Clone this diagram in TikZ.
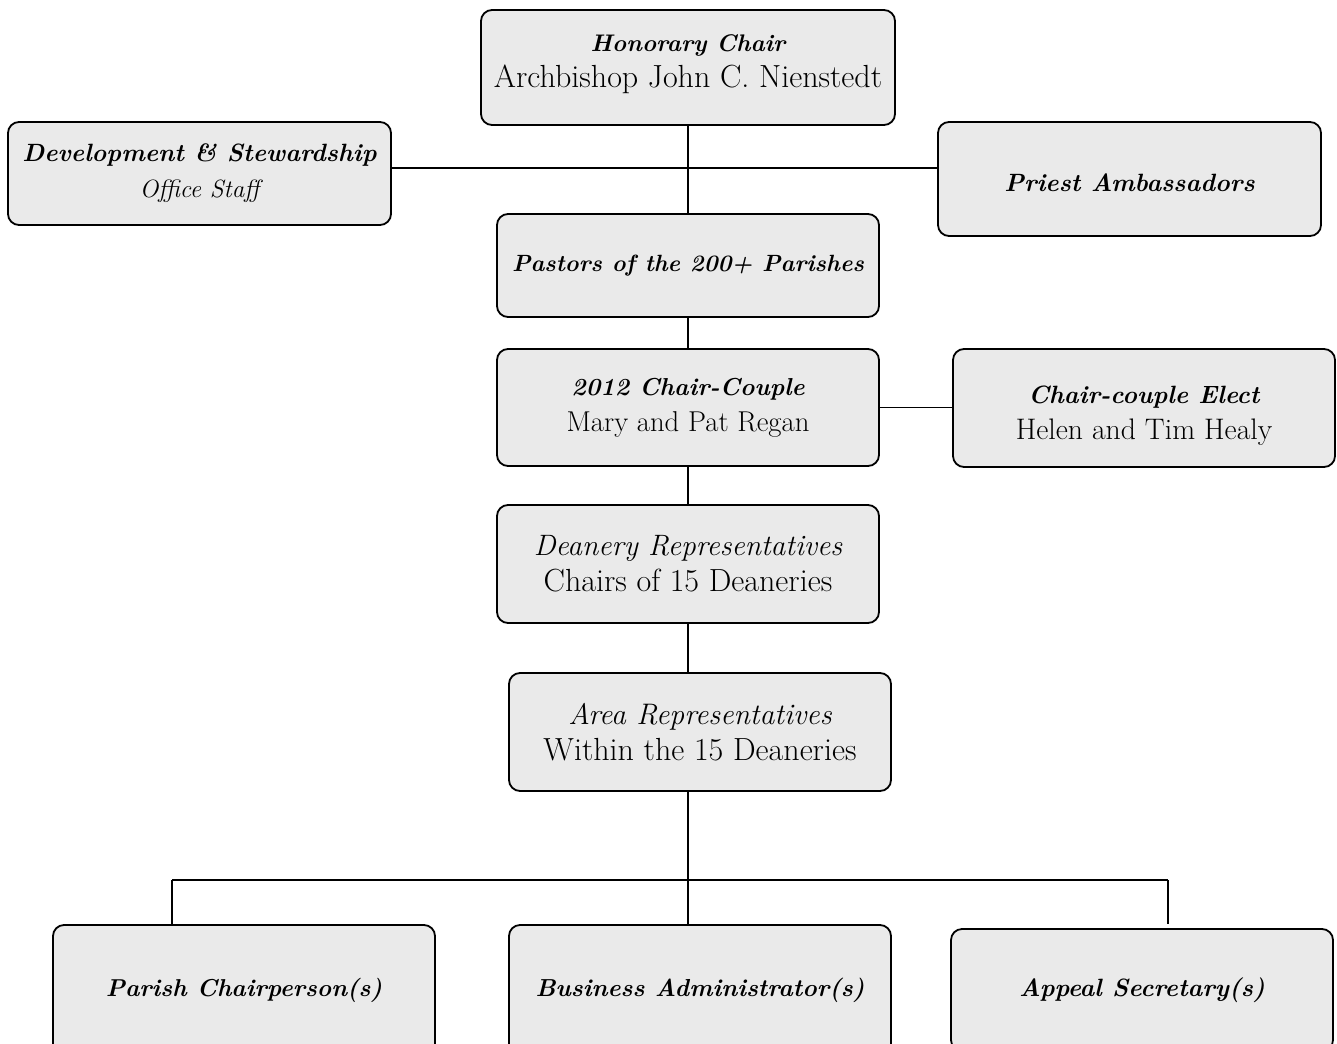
\documentclass[tikz,border=0pt]{standalone}
\usetikzlibrary{calc}
\definecolor{boxfill}{HTML}{EAEAEA}
\tikzset{
  orgbox/.style={draw=black, line width=1.8pt, fill=boxfill, rounded corners=11pt,
    align=center, inner sep=0pt, minimum width=382pt, font=\fontsize{25}{36}\selectfont},
  link/.style={draw=black, line width=1.3pt},
  thicklink/.style={draw=black, line width=2pt},
}
\newcommand{\fbi}[1][25]{\fontsize{#1}{36}\selectfont\bfseries\itshape\ignorespaces}
\newcommand{\fit}[1][29.6]{\fontsize{#1}{36}\selectfont\itshape\ignorespaces}
\newcommand{\frg}[1][30]{\fontsize{#1}{36}\selectfont\ignorespaces}
\begin{document}
\begin{tikzpicture}[x=1pt,y=-1pt]
\useasboundingbox (0,0) rectangle (1337,1043);
\clip (0,0) rectangle (1337,1043);
% boxes
\node[orgbox, minimum width=414pt, minimum height=115pt] (hon) at (688,67.5)
  {{\fbi[24] Honorary Chair}\\{\frg[32] Archbishop John C. Nienstedt}\\[-24pt]};
\node[orgbox, minimum width=383pt, minimum height=103pt] (dev) at (199.5,173.5)
  {{\fbi Development \& Stewardship}\\{\fontsize{25}{36}\selectfont\itshape Office Staff}};
\node[orgbox, minimum width=383pt, minimum height=114pt] (pri) at (1129.5,179)
  {\fbi\rule{0pt}{26pt}Priest Ambassadors};
\node[orgbox, minimum width=382pt, minimum height=103pt] (pas) at (688,265.5)
  {\fbi[23.5] Pastors of the 200+ Parishes};
\node[orgbox, minimum width=382pt, minimum height=117pt] (cha) at (688,407.5)
  {{\fbi[24.5] 2012 Chair-Couple}\\{\frg[28.7] Mary and Pat Regan}};
\node[orgbox, minimum width=382pt, minimum height=118pt] (ele) at (1144,408)
  {{\fbi\rule{0pt}{33pt}Chair-couple Elect}\\{\frg[29.7] Helen and Tim Healy}};
\node[orgbox, minimum width=382pt, minimum height=118pt] (dea) at (688,564)
  {{\fit[29.5] Deanery Representatives}\\{\frg[32] Chairs of 15 Deaneries}};
\node[orgbox, minimum width=382pt, minimum height=118pt] (are) at (700,732)
  {{\fit[29.7] Area Representatives}\\{\frg[32] Within the 15 Deaneries}};
\node[orgbox, minimum width=382pt, minimum height=130pt] (par) at (244,990)
  {\fbi[24.4] Parish Chairperson(s)};
\node[orgbox, minimum width=382pt, minimum height=130pt] (bus) at (700,990)
  {\fbi[24.6] Business Administrator(s)};
\node[orgbox, minimum width=382pt, minimum height=122pt] (app) at (1142,990)
  {\fbi Appeal Secretary(s)};
% helper coordinates
\coordinate (hbar) at (688,168);
\coordinate (spine) at (688,880);
\coordinate (bl) at (172,880);
\coordinate (br) at (1168,880);
% connectors
\draw[link] (hon.south) -- (pas.north);
\draw[link] (dev.east |- hbar) -- (pri.west |- hbar);
\draw[link] (pas.south) -- (cha.north);
\draw[link] (cha.east) -- (ele.west |- cha.east);
\draw[link] (cha.south) -- (dea.north);
\draw[link] (dea.south) -- (are.north -| dea.south);
\draw[link] (are.south -| spine) -- (bus.north -| spine);
\draw[thicklink] (bl) -- (br);
\draw[link] (bl) -- (bl |- par.north);
\draw[link] (br) -- (br |- par.north);
\end{tikzpicture}
\end{document}
